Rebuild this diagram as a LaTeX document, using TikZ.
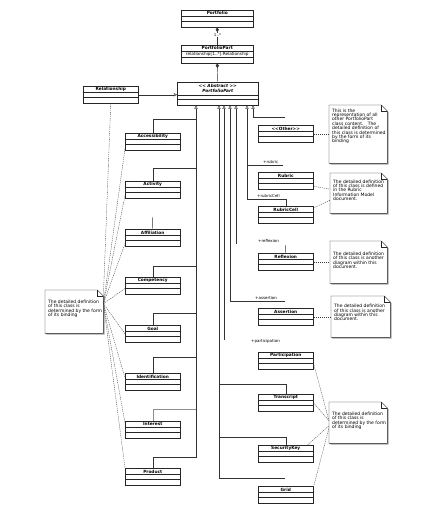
\documentclass[tikz,border=0pt]{standalone}
\usepackage{fontspec}
\setmainfont{DejaVu Sans}
\usetikzlibrary{shadows,arrows.meta}
\tikzset{
 ln/.style={draw=black!80, line width=0.45pt},
 lnlight/.style={draw=black!45, line width=0.45pt},
 gen/.style={ln, -{Triangle[open,length=3.2pt,width=3.4pt]}},
 comp/.style={ln, {Diamond[length=4.5pt,width=3.2pt]}-},
 dep/.style={draw=black!75, line width=0.35pt, dash pattern=on 1.2pt off 0.9pt},
 boxshadow/.style={drop shadow={shadow xshift=1.2pt,shadow yshift=-1.2pt,fill=black,opacity=0.4}},
 cls/.style={draw=black!85,line width=0.5pt,fill=white,anchor=north west,inner sep=0pt,minimum width=55pt,minimum height=17pt,boxshadow},
 cname/.style={font=\fontsize{4.3}{5}\selectfont\bfseries,inner sep=0pt},
 cattr/.style={font=\fontsize{4.2}{5}\selectfont,inner sep=0pt},
 cline/.style={draw=black!85,line width=0.4pt},
 lbl/.style={font=\fontsize{4}{4.5}\selectfont,inner sep=0pt,anchor=west},
 ntext/.style={font=\fontsize{4.5}{4.4}\selectfont,align=left,inner sep=0pt,anchor=west},
 nshape/.style={anchor=north west,inner sep=0pt,draw=none},
}
\newcommand\ltlt{\textless\kern0pt\textless}
\newcommand\gtgt{\textgreater\kern0pt\textgreater}
\newcommand\umlcls[5][55]{%
 \node[cls,minimum width=#1pt] (#2) at (#3,#4) {};
 \draw[cline] ([yshift=-6.5pt]#2.north west) -- ([yshift=-6.5pt]#2.north east);
 \draw[cline] ([yshift=-11.5pt]#2.north west) -- ([yshift=-11.5pt]#2.north east);
 \node[cname] (#2-t) at ([yshift=-3.4pt]#2.north) {#5};
}
\newcommand\umlnote[7]{%
 \node[nshape,minimum width=#4pt,minimum height=#5pt] (#1) at (#2,#3) {};
 \fill[black,opacity=0.35] ([shift={(1.3pt,-1.3pt)}]#1.south west) -- ([shift={(1.3pt,-1.3pt)}]#1.north west) -- ([shift={(-4.7pt,-1.3pt)}]#1.north east) -- ([shift={(1.3pt,-7.3pt)}]#1.north east) -- ([shift={(1.3pt,-1.3pt)}]#1.south east) -- cycle;
 \filldraw[fill=white,draw=black!85,line width=0.45pt] (#1.south west) -- (#1.north west) -- ([xshift=-6pt]#1.north east) -- ([yshift=-6pt]#1.north east) -- (#1.south east) -- cycle;
 \draw[line width=0.35pt,black!85] ([xshift=-6pt]#1.north east) |- ([yshift=-6pt]#1.north east);
 \node[ntext] (#1-t) at ([shift={(3pt,#7pt)}]#1.west) {#6};
}
\begin{document}
\begin{tikzpicture}[x=1pt,y=-1pt]
\useasboundingbox[fill=white] (0,0) rectangle (429,510);

% top classes
\umlcls[72]{pf}{181}{10}{Portfolio}

\node[cls,minimum width=72pt,minimum height=18pt] (pp) at (181,45) {};
\draw[cline] ([yshift=-6pt]pp.north west) -- ([yshift=-6pt]pp.north east);
\draw[cline] ([yshift=-12pt]pp.north west) -- ([yshift=-12pt]pp.north east);
\node[cname] (pp-t) at ([yshift=-3pt]pp.north) {PortfolioPart};
\node[cattr] (pp-a) at ([yshift=-9pt]pp.north) {relationship[1..*]:Relationship};

\node[cls,minimum width=81pt,minimum height=23pt] (abs) at (177,82) {};
\draw[cline] ([yshift=-13pt]abs.north west) -- ([yshift=-13pt]abs.north east);
\draw[cline] ([yshift=-17pt]abs.north west) -- ([yshift=-17pt]abs.north east);
\node[cname,align=center,font=\fontsize{4.3}{5}\selectfont\bfseries\itshape] (abs-t) at ([yshift=-6.5pt]abs.north) {\ltlt{} Abstract \gtgt\\PortfolioPart};

\umlcls{rel}{83}{86}{Relationship}

% left classes
\umlcls{acc}{125}{133}{Accessibility}
\umlcls{act}{125}{181}{Activity}
\umlcls{aff}{125}{229}{Affiliation}
\umlcls{cmp}{125}{277}{Competency}
\umlcls{goal}{125}{325}{Goal}
\umlcls{ident}{125}{373}{Identification}
\umlcls{intr}{125}{421}{Interest}
\umlcls{prod}{125}{468}{Product}

% right classes
\umlcls{oth}{258}{125}{\ltlt{}Other\gtgt}
\umlcls{rub}{258}{172}{Rubric}
\umlcls{rcell}{258}{206}{RubricCell}
\umlcls{refl}{258}{253}{Reflexion}
\umlcls{asrt}{258}{308}{Assertion}
\umlcls{part}{258}{352}{Participation}
\umlcls{trans}{258}{394}{Transcript}
\umlcls{seck}{258}{445}{SecurityKey}
\umlcls{grid}{258}{486}{Grid}

% notes
\umlnote{n1}{329}{105}{58}{58}{This is the\\representation of all\\other PortfolioPart\\class content.\ \ \ The\\detailed definition of\\this class is determined\\by the form of its\\binding}{8}
\umlnote{n2}{330}{173}{57}{40}{The detailed definition\\of this class is defined\\in the Rubric\\Information Model\\document.}{3}
\umlnote{n3}{330}{241}{57}{42}{The detailed definition\\of this class is another\\diagram within this\\document.}{2}
\umlnote{n4}{331}{296}{59}{41}{The detailed definition\\of this class is another\\diagram within this\\document.}{4}
\umlnote{n5}{329}{402}{58}{41}{The detailed definition\\of this class is\\determined by the form\\of its binding}{2}
\umlnote{n0}{45}{290}{58}{43}{The detailed definition\\of this class is\\determined by the form\\of its binding}{3}

% compositions
\draw[comp] (pf.south) -- (pp.north);
\node[lbl,anchor=center,fill=white,inner sep=0.5pt] (mult) at (217.5,35) {1..*};
\draw[comp] (pp.south) -- (abs.north);
\draw[gen] (rel.east) -- (abs.west |- rel.east);

% left generalisations
\coordinate (tL) at (196,457);
\draw[gen] (prod.north) |- (tL) -- (tL |- abs.south);
\coordinate (bAcc) at (196,119);
\coordinate (bAct) at (196,168);
\coordinate (bCmp) at (196,266);
\coordinate (bGoal) at (196,313);
\coordinate (bIdent) at (196,357);
\coordinate (bIntr) at (196,409);
\coordinate (affS) at (152.5,217);
\draw[ln] (acc.north) |- (bAcc);
\draw[ln] (act.north) |- (bAct);
\draw[ln] (affS) -- (aff.north);
\draw[ln] (cmp.north) |- (bCmp);
\draw[ln] (goal.north) |- (bGoal);
\draw[ln] (ident.north) |- (bIdent);
\draw[lnlight] (intr.north) |- (bIntr);

% right generalisations
\coordinate (oE) at (285,117); \coordinate (oB) at (253,117);
\draw[gen] (oE) -- (oB) -- (oB |- abs.south);
\coordinate (rB) at (247,165); \coordinate (rE) at (283,165);
\draw[ln] (rE) -- (rB);
\coordinate (rcB) at (247,199);
\draw[gen] (rcell.north) |- (rcB) -- (rcB |- abs.south);
\coordinate (fB) at (236,244);
\draw[gen] (fB) -- (fB |- abs.south);
\coordinate (fS) at (285.5,245);
\draw[ln] (fS) -- (refl.north);
\coordinate (aE) at (285,301); \coordinate (aB) at (230,301);
\draw[gen] (aE) -- (aB) -- (aB |- abs.south);
\coordinate (pB) at (224,340);
\draw[gen] (pB) -- (pB |- abs.south);
\coordinate (gE) at (285,478); \coordinate (tR) at (219,478);
\draw[gen] (gE) -- (tR) -- (tR |- abs.south);
\coordinate (tB) at (219,384); \coordinate (sB) at (219,437);
\draw[ln] (trans.north) |- (tB);
\draw[ln] (seck.north) |- (sB);

% role labels
\node[lbl] (l-rub) at (263,162) {+rubric};
\node[lbl] (l-rcell) at (257,196) {+rubricCell};
\node[lbl] (l-refl) at (258,241) {+reflexion};
\node[lbl] (l-asrt) at (255,298) {+assertion};
\node[lbl] (l-part) at (251,341) {+participation};

% note links (left)
\coordinate (n0a) at ([yshift=8pt]n0.east);
\draw[dep] (rel.south) -- ([yshift=-6pt]n0.north east);
\draw[dep] (n0a) -- ([yshift=2pt]acc.south west);
\draw[dep] (n0a) -- ([yshift=3pt]act.south west);
\draw[dep] (n0a) -- ([yshift=3pt]aff.south west);
\draw[dep] (n0a) -- ([yshift=6pt]cmp.south west);
\draw[dep] (n0a) -- (goal.west);
\draw[dep] (n0a) -- ([yshift=4pt]ident.west);
\draw[dep] (n0a) -- ([yshift=-2pt]intr.north west);
\draw[dep] (n0a) -- (prod.north west);

% note links (right)
\draw[dep] (oth.east) -- (n1.west |- oth.east);
\draw[dep] ([yshift=-5.5pt]rub.east) -- ([yshift=4pt]n2.west);
\draw[dep] ([yshift=-2pt]rcell.north east) -- ([yshift=-7pt]n2.west);
\draw[dep] (refl.east) -- (n3.west |- refl.east);
\draw[dep] (asrt.east) -- (n4.west |- asrt.east);
\draw[dep] ([yshift=-2.5pt]part.east) -- ([yshift=2pt]n5.west);
\draw[dep] (trans.east) -- ([yshift=2pt]n5.west);
\draw[dep] ([xshift=-6pt]seck.north east) -- ([yshift=-3pt]n5.west);
\draw[dep] ([yshift=-1pt]grid.north east) -- ([yshift=-5pt]n5.west);
\end{tikzpicture}
\end{document}
